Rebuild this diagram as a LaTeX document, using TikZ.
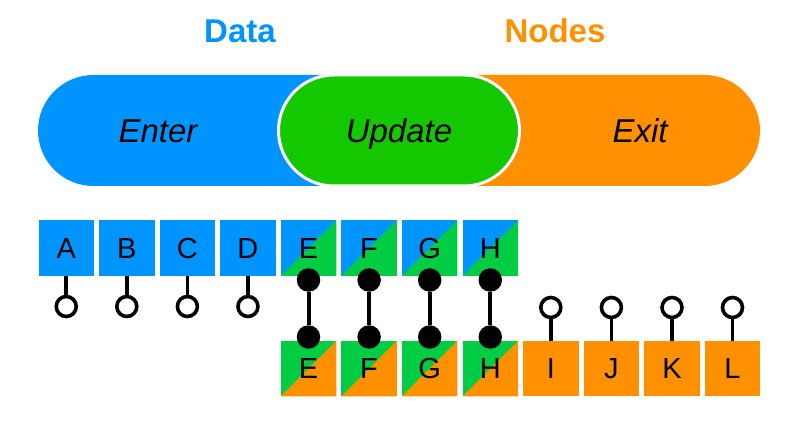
\documentclass[tikz,border=0pt]{standalone}
\usepackage{fontspec}
\setmainfont{Liberation Sans}
\definecolor{dblue}{RGB}{0,148,255}
\definecolor{pgreen}{RGB}{20,200,0}
\definecolor{sgreen}{RGB}{0,204,68}
\definecolor{norange}{RGB}{255,145,0}
\tikzset{
  sq/.style={minimum width=55.5pt, minimum height=55.5pt, inner sep=0pt, outer sep=0pt,
    font=\fontsize{29}{29}\selectfont, text height=20.8pt, text depth=0pt},
  mono/.style={sq, fill=#1},
  duo/.style 2 args={sq, fill=#1, path picture={\fill[#2] (path picture bounding box.south west) -- (path picture bounding box.south east) -- (path picture bounding box.north east) -- cycle;}},
  ring/.style={circle, draw=black, line width=3.6pt, fill=white, minimum size=20pt, inner sep=0pt},
  dot/.style={circle, fill=black, minimum size=23.5pt, inner sep=0pt},
  stem/.style={line width=3.6pt, black},
  link/.style={line width=4pt, black},
  pilltext/.style={font=\fontsize{33}{33}\selectfont\itshape, text height=23.6pt, text depth=0pt, inner sep=0pt},
  head/.style={font=\fontsize{33}{33}\selectfont\bfseries, text height=23.6pt, text depth=0pt, inner sep=0pt}
}
\begin{document}
\begin{tikzpicture}[x=1pt,y=-1pt]
\useasboundingbox[fill=white] (0,0) rectangle (801,425);
% headings
\node[head, text=dblue] (data) at (240,30.5) {Data};
\node[head, text=norange] (nodes) at (555,30.5) {Nodes};
% pills
\fill[dblue, rounded corners=55.5pt] (38,75) rectangle (420,186);
\fill[norange, rounded corners=55.5pt] (380,75) rectangle (760,186);
\filldraw[fill=pgreen, draw=white, line width=3pt, rounded corners=55.5pt] (278.5,75) rectangle (519.5,186);
\node[pilltext] (enter) at (158,130.5) {Enter};
\node[pilltext] (update) at (399,130.5) {Update};
\node[pilltext] (exit) at (640,130.5) {Exit};
% top row
\foreach \n/\x in {A/66.25,B/126.8,C/187.4,D/247.96}{
  \node[mono=dblue] (\n) at (\x,248) {\n};
  \node[ring] (r\n) at (\x,306.5) {};
  \draw[stem] (\n.south) -- (r\n.north);
}
\foreach \n/\x in {E/308.5,F/369.1,G/429.7,H/490.25}{
  \node[duo={dblue}{sgreen}] (\n) at (\x,248) {\n};
  \node[duo={sgreen}{norange}] (\n2) at (\x,368.5) {\n};
}
\foreach \n/\x in {I/550.8,J/611.4,K/672,L/732.5}{
  \node[mono=norange] (\n) at (\x,368.5) {\n};
  \node[ring] (r\n) at (\x,307.5) {};
  \draw[stem] (\n.north) -- (r\n.south);
}
\foreach \n/\x in {E/308.5,F/369.1,G/429.7,H/490.25}{
  \node[dot] (t\n) at (\x,280) {};
  \node[dot] (b\n) at (\x,337) {};
  \draw[link] (t\n) -- (b\n);
}
\end{tikzpicture}
\end{document}
